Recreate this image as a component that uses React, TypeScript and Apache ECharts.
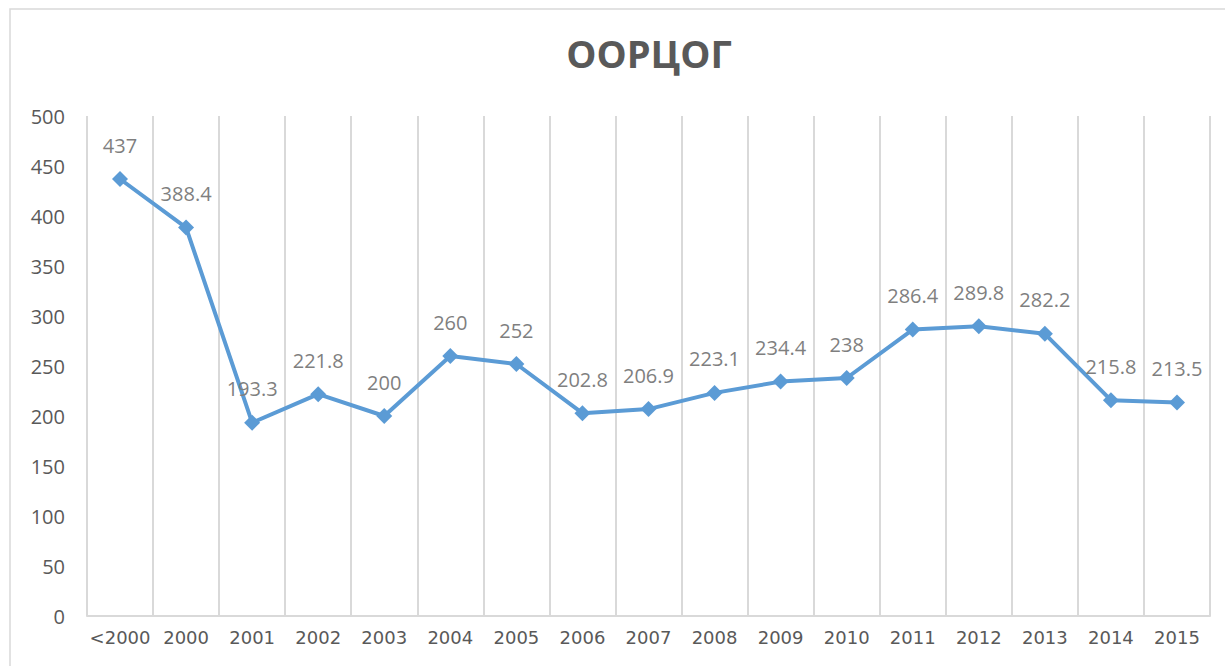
import React, { useEffect, useRef } from "react";
import * as echarts from "echarts";

const categories = ["<2000", "2000", "2001", "2002", "2003", "2004", "2005", "2006", "2007", "2008", "2009", "2010", "2011", "2012", "2013", "2014", "2015"];
const values = [437, 388.4, 193.3, 221.8, 200, 260, 252, 202.8, 206.9, 223.1, 234.4, 238, 286.4, 289.8, 282.2, 215.8, 213.5];
const titleText = "ООРЦОГ";

export default function App() {
  const ref = useRef<HTMLDivElement>(null);
  useEffect(() => {
    if (!ref.current) return;
    const chart = echarts.init(ref.current, undefined, { renderer: "svg" });
    chart.setOption({
      animation: false,
      backgroundColor: "#ffffff",
      title: {
        text: titleText,
        left: 644,
        textAlign: "center",
        top: 29,
        textStyle: { fontFamily: "Open Sans", fontWeight: "bold", fontSize: 38, color: "#595959" },
      },
      graphic: [
        {
          type: "rect",
          shape: { x: 10, y: 9, width: 1230, height: 680 },
          style: { fill: "none", stroke: "#d9d9d9", lineWidth: 1.5 },
          silent: true,
          z: -1,
        },
      ],
      grid: { left: 87, right: 15, top: 116, bottom: 50 },
      xAxis: {
        type: "category",
        data: categories,
        boundaryGap: true,
        axisLine: { show: true, lineStyle: { color: "#d9d9d9", width: 2 } },
        axisTick: { show: false },
        axisLabel: { interval: 0, color: "#595959", fontFamily: "DejaVu Sans", fontSize: 18, margin: 12 },
        splitLine: { show: true, interval: 0, lineStyle: { color: "#d9d9d9", width: 2 } },
      },
      yAxis: {
        type: "value",
        min: 0,
        max: 500,
        interval: 50,
        axisLine: { show: false },
        axisTick: { show: false },
        splitLine: { show: false },
        axisLabel: { color: "#595959", fontFamily: "Open Sans", fontSize: 20, margin: 22 },
      },
      series: [
        {
          type: "line",
          data: values,
          symbol: "diamond",
          symbolSize: 16,
          itemStyle: { color: "#5B9BD5" },
          lineStyle: { color: "#5B9BD5", width: 4 },
          label: {
            show: true,
            position: "top",
            distance: 16,
            color: "#7f7f7f",
            fontFamily: "Open Sans",
            fontSize: 20,
          },
        },
      ],
    });
    return () => chart.dispose();
  }, []);
  return <div ref={ref} style={{ position: "fixed", left: 0, top: 0, width: 1225, height: 666 }} />;
}
